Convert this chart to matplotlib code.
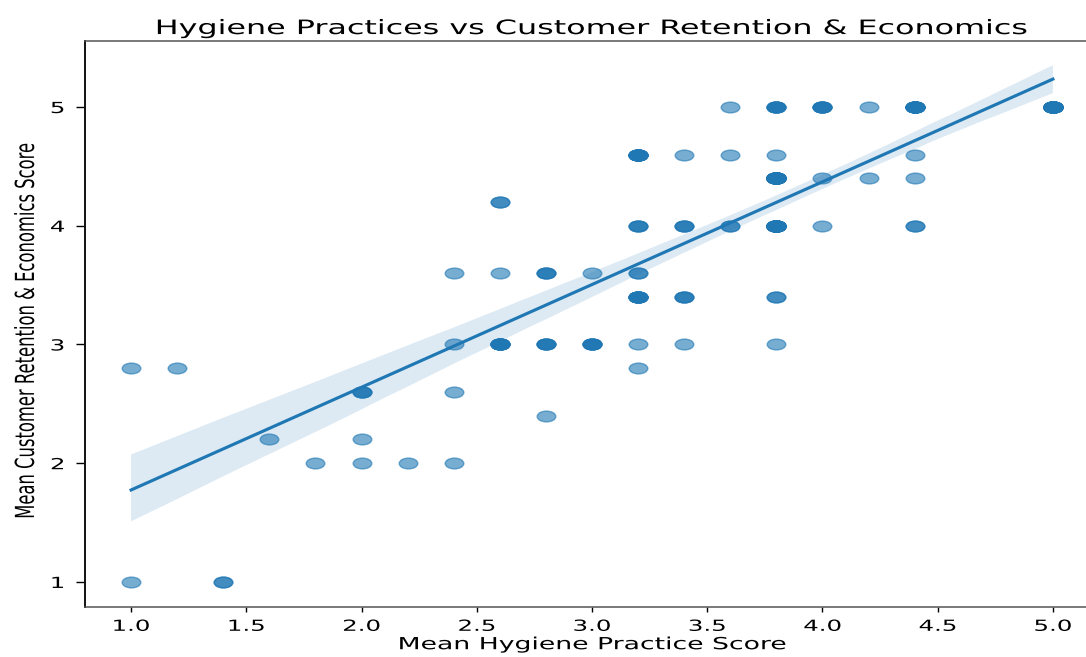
import numpy as np
import matplotlib
matplotlib.use("Agg")
import matplotlib.pyplot as plt
import seaborn as sns
from matplotlib.patheffects import AbstractPathEffect
from matplotlib.transforms import Affine2D
from matplotlib.path import Path

# ---- data (respondents = overlapping points) ----
hygiene = [3.6, 3.8, 4.0, 4.2, 4.4, 5.0,
           3.2, 3.4, 3.6, 3.8, 4.4,
           3.8, 4.0, 4.2, 4.4,
           2.6,
           3.2, 3.4, 3.6, 3.8, 4.0, 4.4,
           2.4, 2.6, 2.8, 3.0, 3.2,
           3.2, 3.4, 3.8,
           2.4, 2.6, 2.8, 3.0, 3.2, 3.4, 3.8,
           1.0, 1.2, 3.2,
           2.0, 2.4,
           2.8,
           1.6, 2.0,
           1.8, 2.0, 2.2, 2.4,
           1.0, 1.4]
retention = [5.0, 5.0, 5.0, 5.0, 5.0, 5.0,
             4.6, 4.6, 4.6, 4.6, 4.6,
             4.4, 4.4, 4.4, 4.4,
             4.2,
             4.0, 4.0, 4.0, 4.0, 4.0, 4.0,
             3.6, 3.6, 3.6, 3.6, 3.6,
             3.4, 3.4, 3.4,
             3.0, 3.0, 3.0, 3.0, 3.0, 3.0, 3.0,
             2.8, 2.8, 2.8,
             2.6, 2.6,
             2.4,
             2.2, 2.2,
             2.0, 2.0, 2.0, 2.0,
             1.0, 1.0]
respondents = [1, 5, 5, 1, 10, 27,
               10, 1, 1, 1, 1,
               30, 1, 1, 1,
               2,
               3, 3, 2, 26, 1, 2,
               1, 1, 3, 1, 2,
               8, 3, 2,
               1, 8, 4, 5, 1, 1, 1,
               1, 1, 1,
               3, 1,
               1,
               1, 1,
               1, 1, 1, 1,
               1, 2]

x_ticks = [1.0, 1.5, 2.0, 2.5, 3.0, 3.5, 4.0, 4.5, 5.0]
x_tick_labels = ["1.0", "1.5", "2.0", "2.5", "3.0", "3.5", "4.0", "4.5", "5.0"]
y_ticks = [1, 2, 3, 4, 5]
y_tick_labels = ["1", "2", "3", "4", "5"]

title = "Hygiene Practices vs Customer Retention & Economics"
x_label = "Mean Hygiene Practice Score"
y_label = "Mean Customer Retention & Economics Score"

SX = 1.6  # horizontal stretch of the reference rendering


class HStretch(AbstractPathEffect):
    """Stretch a text path horizontally about its own centre."""
    def __init__(self, sx):
        super().__init__()
        self.sx = sx

    def draw_path(self, renderer, gc, tpath, affine, rgbFace=None):
        ext = tpath.get_extents(affine)
        cx = 0.5 * (ext.x0 + ext.x1)
        new = affine + Affine2D().translate(-cx, 0).scale(self.sx, 1).translate(cx, 0)
        renderer.draw_path(gc, tpath, new, rgbFace)


x = np.repeat(hygiene, respondents)
y = np.repeat(retention, respondents)

W, H = 1086, 657
fig = plt.figure(figsize=(W / 100, H / 100), dpi=100)
ax = fig.add_axes([85 / W, 1 - 607 / H, (1099 - 85) / W, (607 - 41) / H])

ell = Path.unit_circle().transformed(Affine2D().scale(1.0, 0.58))
sns.regplot(x=x, y=y, ax=ax, marker=ell, color="#1f77b4",
            scatter_kws=dict(s=180, alpha=0.6), seed=7)

ax.set_xlim(0.8, 5.2)
ax.set_ylim(0.789, 5.556)
ax.set_xticks(x_ticks)
ax.set_xticklabels(x_tick_labels)
ax.set_yticks(y_ticks)
ax.set_yticklabels(y_tick_labels)
ax.tick_params(axis="x", labelsize=11, length=3.5, width=1.0, pad=5)
ax.tick_params(axis="y", labelsize=11, length=6.3, width=1.0, pad=10)

ax.spines["right"].set_visible(False)
ax.spines["left"].set_color("#111111")
ax.spines["left"].set_linewidth(1.4)
for s in ("top", "bottom"):
    ax.spines[s].set_color("#555555")
    ax.spines[s].set_linewidth(1.1)

t = ax.set_title(title, fontsize=14.3, pad=5)
xl = ax.set_xlabel(x_label, fontsize=12, labelpad=1)
yl = ax.set_ylabel(y_label, fontsize=11.8)
ax.yaxis.set_label_coords(-0.051, 0.488)

pe = [HStretch(SX)]
for txt in (t, xl, yl):
    txt.set_path_effects(pe)


def stretch_ticks():
    for tk in ax.xaxis.get_major_ticks() + ax.yaxis.get_major_ticks():
        tk.label1.set_path_effects(pe)


stretch_ticks()
fig.canvas.draw()
stretch_ticks()
fig.savefig("out.png", dpi=100)
